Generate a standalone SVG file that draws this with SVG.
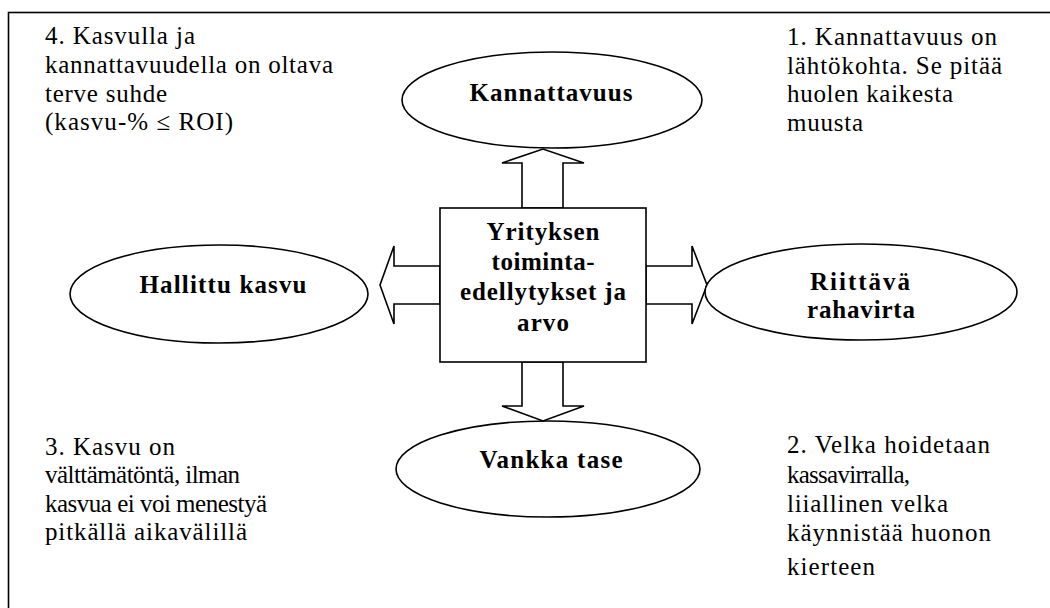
<svg xmlns="http://www.w3.org/2000/svg" width="1050" height="608" viewBox="0 0 1050 608">
  <style>
    .frame { fill: #ffffff; stroke: #000000; stroke-width: 1.6; }
    .shape { fill: #ffffff; stroke: #000000; stroke-width: 1.6; }
    .arrow { fill: #ffffff; stroke: #000000; stroke-width: 1.6; stroke-linejoin: miter; }
    .note { font-family: 'Liberation Serif', 'Times New Roman', serif; font-size: 25px; fill: #000000; }
    .label { font-family: 'Liberation Serif', 'Times New Roman', serif; font-size: 25px; font-weight: bold; fill: #000000; text-anchor: middle; }
  </style>

  <!-- outer frame -->
  <rect class="frame" x="8.5" y="12.5" width="1100" height="700"/>

  <!-- block arrows from the centre box to the four goals -->
  <g id="connectors">
    <polygon class="arrow" points="522,208 522,163 502,163 543,149 584,163 563,163 563,208"/>
    <polygon class="arrow" points="522,362 522,406 502,406 543,421 584,406 563,406 563,362"/>
    <polygon class="arrow" points="440,266 394,266 394,246 380,285 394,324 394,304 440,304"/>
    <polygon class="arrow" points="646,266 692,266 692,246 707,285 692,324 692,304 646,304"/>
  </g>

  <g id="node-center" font-family="Liberation Serif, serif">
    <rect class="shape" x="440" y="208" width="206" height="154"/>
    <text class="label" x="543" y="240" textLength="113">Yrityksen</text>
    <text class="label" x="543" y="270" textLength="103">toiminta-</text>
    <text class="label" x="543" y="300" textLength="166">edellytykset ja</text>
    <text class="label" x="543" y="331" textLength="52">arvo</text>
  </g>

  <g id="node-kannattavuus">
    <ellipse class="shape" cx="552" cy="100" rx="150" ry="48"/>
    <text class="label" x="551" y="101" textLength="163">Kannattavuus</text>
  </g>

  <g id="node-vankka-tase">
    <ellipse class="shape" cx="548" cy="469" rx="152" ry="48"/>
    <text class="label" x="551" y="468" textLength="143">Vankka tase</text>
  </g>

  <g id="node-hallittu-kasvu">
    <ellipse class="shape" cx="219" cy="294" rx="149" ry="49"/>
    <text class="label" x="223" y="293" textLength="167">Hallittu kasvu</text>
  </g>

  <g id="node-rahavirta">
    <ellipse class="shape" cx="861" cy="292" rx="156" ry="48"/>
    <text class="label" x="860" y="290" textLength="100">Riittävä</text>
    <text class="label" x="861" y="318" textLength="108">rahavirta</text>
  </g>

  <!-- numbered notes in the corners -->
  <g id="note-4">
    <text class="note" x="45" y="44" textLength="150">4. Kasvulla ja</text>
    <text class="note" x="45" y="73" textLength="288">kannattavuudella on oltava</text>
    <text class="note" x="45" y="102" textLength="122">terve suhde</text>
    <text class="note" x="45" y="130" textLength="188">(kasvu-% ≤ ROI)</text>
  </g>

  <g id="note-1">
    <text class="note" x="787" y="45" textLength="210">1. Kannattavuus on</text>
    <text class="note" x="787" y="74" textLength="215">lähtökohta. Se pitää</text>
    <text class="note" x="787" y="102" textLength="166">huolen kaikesta</text>
    <text class="note" x="787" y="131" textLength="76">muusta</text>
  </g>

  <g id="note-3">
    <text class="note" x="45" y="455" textLength="130">3. Kasvu on</text>
    <text class="note" x="45" y="483" textLength="195">välttämätöntä, ilman</text>
    <text class="note" x="45" y="512" textLength="222">kasvua ei voi menestyä</text>
    <text class="note" x="45" y="540" textLength="202">pitkällä aikavälillä</text>
  </g>

  <g id="note-2">
    <text class="note" x="787" y="453" textLength="203">2. Velka hoidetaan</text>
    <text class="note" x="787" y="483" textLength="123">kassavirralla,</text>
    <text class="note" x="787" y="512" textLength="161">liiallinen velka</text>
    <text class="note" x="787" y="541" textLength="204">käynnistää huonon</text>
    <text class="note" x="787" y="575" textLength="88">kierteen</text>
  </g>
</svg>
